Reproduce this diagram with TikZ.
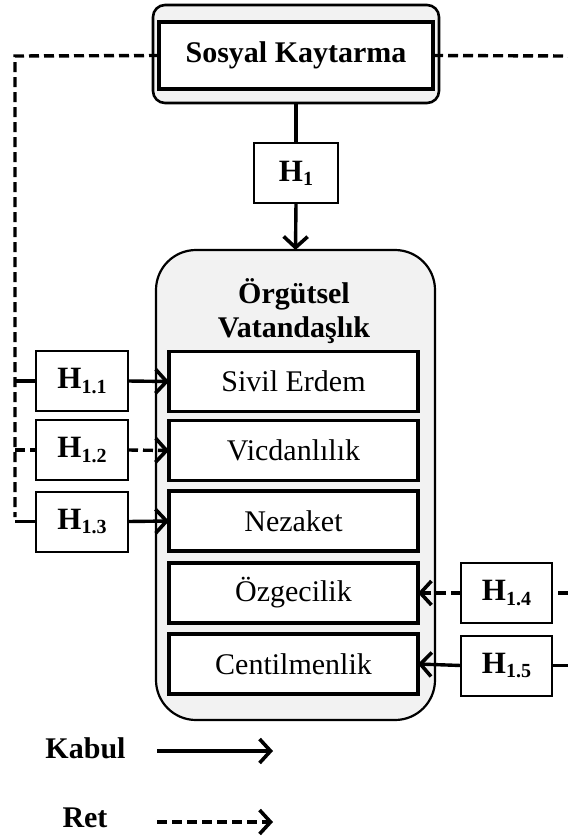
\documentclass[tikz,border=0pt]{standalone}
\usepackage{fontspec}
\setmainfont{Liberation Serif}
\usetikzlibrary{arrows.meta}
\definecolor{boxgray}{HTML}{F2F2F2}
\newcommand{\hlab}[1]{{\fontsize{31}{31}\selectfont\textbf{H}}\raisebox{-0.42em}{\fontsize{20}{20}\selectfont\textbf{#1}}}
\begin{document}
\begin{tikzpicture}[x=1pt,y=-1pt,
  every node/.style={inner sep=0pt,outer sep=0pt},
  conn/.style={line width=3.4pt,draw=black},
  dash line/.style={conn,dash pattern=on 10pt off 5pt},
  tip/.style={-{Straight Barb[length=11pt,width=24pt,line width=3.6pt]}},
  hbox/.style={draw=black,line width=2pt,fill=white,minimum height=60pt},
  dimbox/.style={draw=black,line width=3.4pt,fill=white,minimum width=249pt,minimum height=60pt,font=\fontsize{30}{34}\selectfont},
  bigfont/.style={font=\fontsize{30}{34}\selectfont\bfseries}
]
\useasboundingbox (0,0) rectangle (568,836);
% top construct
\node[draw=black,line width=2.6pt,fill=boxgray,rounded corners=12pt,minimum width=286pt,minimum height=98pt] (outer) at (296,54) {};
\node[draw=black,line width=3.6pt,fill=white,minimum width=274pt,minimum height=67pt,bigfont] (sk) at (296,55.5) {Sosyal Kaytarma};
\node[hbox,minimum width=84pt] (h1) at (296,173) {\hlab{1}};
% big construct
\node[draw=black,line width=2.2pt,fill=boxgray,rounded corners=40pt,minimum width=279pt,minimum height=470pt] (big) at (295.5,485) {};
\node[bigfont,align=center] (title) at (294,311) {Örgütsel\\Vatandaşlık};
\node[dimbox] (d1) at (293.5,381.5) {Sivil Erdem};
\node[dimbox] (d2) at (293.5,450.5) {Vicdanlılık};
\node[dimbox] (d3) at (293.5,521) {Nezaket};
\node[dimbox] (d4) at (293.5,593) {Özgecilik};
\node[dimbox] (d5) at (293.5,664) {Centilmenlik};
% hypothesis boxes
\node[hbox,minimum width=92pt] (h11) at (82,381) {\hlab{1.1}};
\node[hbox,minimum width=92pt] (h12) at (82,450) {\hlab{1.2}};
\node[hbox,minimum width=92pt] (h13) at (82,521.5) {\hlab{1.3}};
\node[hbox,minimum width=91pt] (h14) at (506.5,593) {\hlab{1.4}};
\node[hbox,minimum width=91pt] (h15) at (506.5,665.5) {\hlab{1.5}};
% coordinates
\coordinate (lt) at (15,56);
\coordinate (l1) at (15,381);
\coordinate (l2) at (15,450);
\coordinate (l3) at (15,517);
\coordinate (l3b) at (15,521.5);
\coordinate (rt) at (568,56);
\coordinate (r4) at (568,593);
\coordinate (r5) at (568,665.5);
% main path
\draw[conn] (outer.south) -- (h1.north);
\draw[conn,tip] (h1.south) -- (big.north);
% left dashed frame
\draw[dash line] (sk.west) -- (lt) -- (l3);
\draw[conn] (l1) -- (h11.west);
\draw[dash line] (l2) -- (h12.west);
\draw[conn] (l3b) -- (h13.west);
\draw[conn,tip] (h11.east) -- (d1.west);
\draw[dash line,tip] (h12.east) -- (d2.west);
\draw[conn,tip] (h13.east) -- (d3.west);
% right side
\draw[dash line] (sk.east) -- (rt);
\draw[dash line] (r4) -- (h14.east);
\draw[conn] (r5) -- (h15.east);
\draw[dash line,tip] (h14.west) -- (d4.east);
\draw[conn,tip] (h15.west) -- (d5.east);
% legend
\node[bigfont] (kabul) at (85.5,748) {Kabul};
\node[bigfont] (ret) at (85,818) {Ret};
\coordinate (ka) at (157,751);
\coordinate (kb) at (273,751);
\coordinate (ra) at (157,822);
\coordinate (rb) at (273,822);
\draw[conn,tip] (ka) -- (kb);
\draw[dash line,tip] (ra) -- (rb);
\end{tikzpicture}
\end{document}
